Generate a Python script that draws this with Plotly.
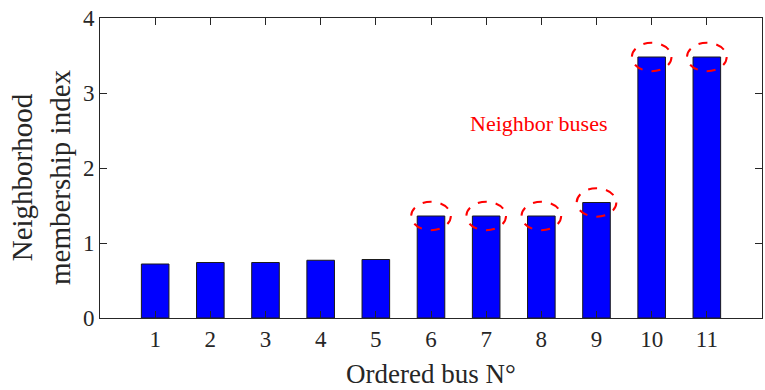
import plotly.graph_objects as go

buses = [1, 2, 3, 4, 5, 6, 7, 8, 9, 10, 11]
membership = [0.72, 0.74, 0.74, 0.77, 0.78, 1.36, 1.36, 1.36, 1.54, 3.48, 3.48]
neighbor_buses = [6, 7, 8, 9, 10, 11]
y_ticks = [0, 1, 2, 3, 4]

FONT = "Liberation Serif, Times New Roman, serif"
AX = "#262626"

fig = go.Figure()
fig.add_trace(go.Bar(
    x=buses, y=membership, width=0.5,
    marker=dict(color="#0000FF", line=dict(color="#1a1a1a", width=1)),
    showlegend=False,
))

shapes = []
for b in neighbor_buses:
    v = membership[buses.index(b)]
    shapes.append(dict(type="circle", xref="x", yref="y",
                       x0=b - 0.36, x1=b + 0.36, y0=v - 0.19, y1=v + 0.19,
                       line=dict(color="#FF0000", width=2, dash="dash")))

fig.update_layout(
    width=765, height=390,
    margin=dict(l=100, r=3, t=18, b=72, autoexpand=False),
    paper_bgcolor="white", plot_bgcolor="white",
    font=dict(family=FONT, color=AX, size=22),
    shapes=shapes,
    xaxis=dict(range=[0, 12], tickvals=buses, ticks="inside", ticklen=7,
               tickcolor=AX, showline=True, linecolor=AX, linewidth=1,
               mirror="ticks", showgrid=False, zeroline=False, automargin=False,
               tickfont=dict(size=23, family=FONT, color=AX)),
    yaxis=dict(range=[0, 4], tickvals=y_ticks, ticks="inside", ticklen=7,
               tickcolor=AX, showline=True, linecolor=AX, linewidth=1,
               mirror="ticks", showgrid=False, zeroline=False, automargin=False,
               tickfont=dict(size=23, family=FONT, color=AX)),
    annotations=[
        dict(text="Neighbor buses", x=7.95, y=2.6, xref="x", yref="y",
             showarrow=False, font=dict(size=22, family=FONT, color="#FF0000")),
        dict(text="Ordered bus N°", x=0.5, y=(318 - 374) / 300, xref="paper", yref="paper",
             xanchor="center", yanchor="middle", showarrow=False,
             font=dict(size=27, family=FONT, color=AX)),
        dict(text="Neighborhood<br>membership index", x=(41 - 100) / 662, y=0.47,
             xref="paper", yref="paper", xanchor="center", yanchor="middle",
             showarrow=False, textangle=-90,
             font=dict(size=29, family=FONT, color=AX)),
    ],
)

fig.write_html("out.html",
               config={"displayModeBar": False},
               post_script="document.body.style.margin='0';document.body.style.overflow='hidden';")
